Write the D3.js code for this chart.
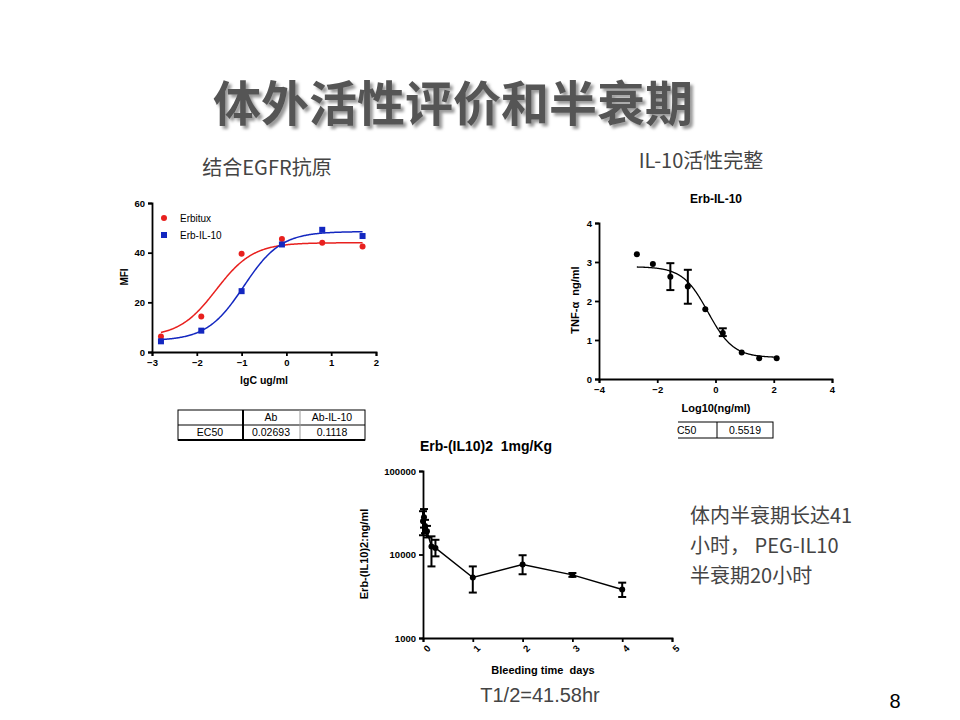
<!DOCTYPE html><html><head><meta charset="utf-8"><script src="https://cdn.jsdelivr.net/npm/d3@7"></script>
<style>body{margin:0;background:#fff}text{font-family:Arial,"Liberation Sans",sans-serif;white-space:pre}</style></head><body>
<svg id="s" width="960" height="720"><defs><filter id="sh"><feDropShadow dx="3" dy="3" stdDeviation="1.5" flood-color="#999"/></filter></defs></svg>
<script>
// Chart 1 data
const c1x=[-2.8,-1.9,-1,-0.1,0.8,1.7];
const erbitux=[6.2,14.3,39.6,45.5,44,42.5];
const erbIL10=[4.3,8.6,24.5,43.3,49.2,46.7];
const fitErbitux=[6,44,-1.57,1.05]; // bottom, top, logEC50, hill
const fitErbIL10=[4.5,48.5,-0.95,1.05];
const c1xTicks=[-3,-2,-1,0,1,2], c1yTicks=[0,20,40,60];
// Chart 2 data
const c2x=[-2.7,-2.15,-1.55,-0.95,-0.35,0.25,0.9,1.5,2.1];
const c2y=[3.2,2.95,2.62,2.37,1.79,1.18,0.68,0.53,0.53];
const c2lo=[null,null,2.28,1.93,null,1.1,null,null,null];
const c2hi=[null,null,2.97,2.8,null,1.3,null,null,null];
const fit2=[0.55,2.88,-0.258,1.0];
const c2xTicks=[-4,-2,0,2,4], c2yTicks=[0,1,2,3,4];
// Chart 3 data
const c3x=[0,0.02,0.04,0.08,0.17,0.25,1,2,3,4];
const c3y=[25000,28000,22000,19000,12500,12000,5300,7600,5700,3800];
const c3lo=[17000,21000,18000,16000,7200,9500,3500,5800,5400,3100];
const c3hi=[33000,35000,26000,22000,16500,15000,7200,9800,6000,4600];
const c3xTicks=[0,1,2,3,4,5], c3yTicks=[1000,10000,100000];

const svg=d3.select("#s");
const sig=(p,x)=>p[0]+(p[1]-p[0])/(1+Math.pow(10,(p[2]-x)*p[3]));
const sigD=(p,x)=>p[0]+(p[1]-p[0])/(1+Math.pow(10,(x-p[2])*p[3]));
function axes(x,y,xt,yt){
  const gx=svg.append("g").attr("transform",`translate(0,${y.range()[0]})`).call(d3.axisBottom(x).tickValues(xt).tickSize(4).tickFormat(d3.format("d")));
  const gy=svg.append("g").attr("transform",`translate(${x.range()[0]},0)`).call(d3.axisLeft(y).tickValues(yt).tickSize(4).tickFormat(d3.format("d")));
  [gx,gy].forEach(g=>{g.selectAll("path,line").attr("stroke","#000").attr("stroke-width",1.8);g.selectAll("text").attr("font-size",9.5).attr("font-weight","bold").attr("fill","#000");});
  return [gx,gy];
}
const cj="font-family:'Noto Sans CJK SC'";
svg.append("text").attr("x",453).attr("y",121).attr("text-anchor","middle").attr("font-size",48).attr("font-weight","bold").attr("fill","#555").attr("filter","url(#sh)").attr("style",cj).text("体外活性评价和半衰期");
svg.append("text").attr("x",267).attr("y",175).attr("text-anchor","middle").attr("font-size",20).attr("fill","#444").attr("style",cj).text("结合EGFR抗原");
svg.append("text").attr("x",701).attr("y",168).attr("text-anchor","middle").attr("font-size",20).attr("fill","#444").attr("style",cj).text("IL-10活性完整");
["体内半衰期长达41","小时， PEG-IL10","半衰期20小时"].forEach((t,i)=>svg.append("text").attr("x",690).attr("y",523+i*30).attr("font-size",20).attr("fill","#444").attr("style",cj).text(t));
svg.append("text").attr("x",540).attr("y",702).attr("text-anchor","middle").attr("font-size",20).attr("fill","#444").text("T1/2=41.58hr");
svg.append("text").attr("x",895).attr("y",708).attr("text-anchor","middle").attr("font-size",20).attr("fill","#000").text("8");

// Chart 1
{const x=d3.scaleLinear([-3,2],[152,376]), y=d3.scaleLinear([0,60],[352,203]);
 axes(x,y,c1xTicks,c1yTicks);
 svg.append("text").attr("x",264).attr("y",384).attr("text-anchor","middle").attr("font-size",10.5).attr("font-weight","bold").text("lgC ug/ml");
 svg.append("text").attr("transform","translate(128,277)rotate(-90)").attr("text-anchor","middle").attr("font-size",10).attr("font-weight","bold").text("MFI");
 const xs=d3.range(-2.8,1.71,0.02);
 [[fitErbitux,"#e8201e"],[fitErbIL10,"#1327c0"]].forEach(([p,c])=>svg.append("path").attr("d",d3.line().x(d=>x(d)).y(d=>y(sig(p,d)))(xs)).attr("fill","none").attr("stroke",c).attr("stroke-width",1.5));
 c1x.forEach((d,i)=>{svg.append("circle").attr("cx",x(d)).attr("cy",y(erbitux[i])).attr("r",3).attr("fill","#e8201e");
   svg.append("rect").attr("x",x(d)-3).attr("y",y(erbIL10[i])-3).attr("width",6).attr("height",6).attr("fill","#1327c0");});
 svg.append("circle").attr("cx",164).attr("cy",218).attr("r",3).attr("fill","#e8201e");
 svg.append("rect").attr("x",161).attr("y",232).attr("width",6).attr("height",6).attr("fill","#1327c0");
 svg.append("text").attr("x",180).attr("y",222).attr("font-size",10).text("Erbitux");
 svg.append("text").attr("x",180).attr("y",239).attr("font-size",10).text("Erb-IL-10");
 const tb=svg.append("g").attr("font-size",10.5).attr("fill","#000");
 tb.append("rect").attr("x",178).attr("y",410).attr("width",187).attr("height",30).attr("fill","none").attr("stroke","#000");
 tb.append("line").attr("x1",178).attr("x2",365).attr("y1",425).attr("y2",425).attr("stroke","#000");
 tb.append("line").attr("x1",243).attr("x2",243).attr("y1",410).attr("y2",440).attr("stroke","#000").attr("stroke-width",2);
 tb.append("line").attr("x1",300).attr("x2",300).attr("y1",410).attr("y2",440).attr("stroke","#999");
 tb.append("line").attr("x1",178).attr("x2",365).attr("y1",440).attr("y2",440).attr("stroke","#000").attr("stroke-width",2);
 [["Ab",271,421],["Ab-IL-10",332,421],["EC50",210,436],["0.02693",271,436],["0.1118",332,436]].forEach(([t,a,b])=>tb.append("text").attr("x",a).attr("y",b).attr("text-anchor","middle").text(t));
}
// Chart 2
{const x=d3.scaleLinear([-4,4],[599,832]), y=d3.scaleLinear([0,4],[379,223]);
 axes(x,y,c2xTicks,c2yTicks);
 svg.append("text").attr("x",716).attr("y",203).attr("text-anchor","middle").attr("font-size",12).attr("font-weight","bold").text("Erb-IL-10");
 svg.append("text").attr("x",716).attr("y",412).attr("text-anchor","middle").attr("font-size",11).attr("font-weight","bold").text("Log10(ng/ml)");
 svg.append("text").attr("transform","translate(579,300)rotate(-90)").attr("text-anchor","middle").attr("font-size",11).attr("font-weight","bold").text("TNF-α  ng/ml");
 const xs=d3.range(-2.7,2.11,0.02);
 svg.append("path").attr("d",d3.line().x(d=>x(d)).y(d=>y(sigD(fit2,d)))(xs)).attr("fill","none").attr("stroke","#000").attr("stroke-width",1.3);
 c2x.forEach((d,i)=>{svg.append("circle").attr("cx",x(d)).attr("cy",y(c2y[i])).attr("r",3).attr("fill","#000");
  if(c2lo[i]!=null){const g=svg.append("g").attr("stroke","#000").attr("stroke-width",2);
   g.append("line").attr("x1",x(d)).attr("x2",x(d)).attr("y1",y(c2lo[i])).attr("y2",y(c2hi[i]));
   [c2lo[i],c2hi[i]].forEach(v=>g.append("line").attr("x1",x(d)-4).attr("x2",x(d)+4).attr("y1",y(v)).attr("y2",y(v)));}});
 const tb=svg.append("g").attr("font-size",10.5);
 tb.append("rect").attr("x",675).attr("y",422).attr("width",98).attr("height",16).attr("fill","none").attr("stroke","#000");
 tb.append("line").attr("x1",717).attr("x2",717).attr("y1",422).attr("y2",438).attr("stroke","#000");
 tb.append("rect").attr("x",672).attr("y",421).attr("width",6).attr("height",18).attr("fill","#fff");
 tb.append("text").attr("x",677).attr("y",434).text("C50");
 tb.append("text").attr("x",745).attr("y",434).attr("text-anchor","middle").text("0.5519");
}
// Chart 3
{const x=d3.scaleLinear([0,5],[423,672]), y=d3.scaleLog([1000,100000],[638,471]);
 const [gx]=axes(x,y,c3xTicks,c3yTicks);
 gx.selectAll("text").attr("transform","translate(-2,4)rotate(-45)").attr("text-anchor","end").attr("dy","0.5em").attr("dx","0.2em");
 svg.append("text").attr("x",486).attr("y",451).attr("text-anchor","middle").attr("font-size",14).attr("font-weight","bold").text("Erb-(IL10)2  1mg/Kg");
 svg.append("text").attr("x",543).attr("y",674).attr("text-anchor","middle").attr("font-size",11).attr("font-weight","bold").text("Bleeding time  days");
 svg.append("text").attr("transform","translate(368,554)rotate(-90)").attr("text-anchor","middle").attr("font-size",11).attr("font-weight","bold").text("Erb-(IL10)2:ng/ml");
 svg.append("path").attr("d",d3.line().x(d=>x(d)).y((d,i)=>y(c3y[i]))(c3x)).attr("fill","none").attr("stroke","#000").attr("stroke-width",1.5);
 c3x.forEach((d,i)=>{svg.append("circle").attr("cx",x(d)).attr("cy",y(c3y[i])).attr("r",3).attr("fill","#000");
  const g=svg.append("g").attr("stroke","#000").attr("stroke-width",2);
  g.append("line").attr("x1",x(d)).attr("x2",x(d)).attr("y1",y(c3lo[i])).attr("y2",y(c3hi[i]));
  [c3lo[i],c3hi[i]].forEach(v=>g.append("line").attr("x1",x(d)-4).attr("x2",x(d)+4).attr("y1",y(v)).attr("y2",y(v)));});
}
</script></body></html>
